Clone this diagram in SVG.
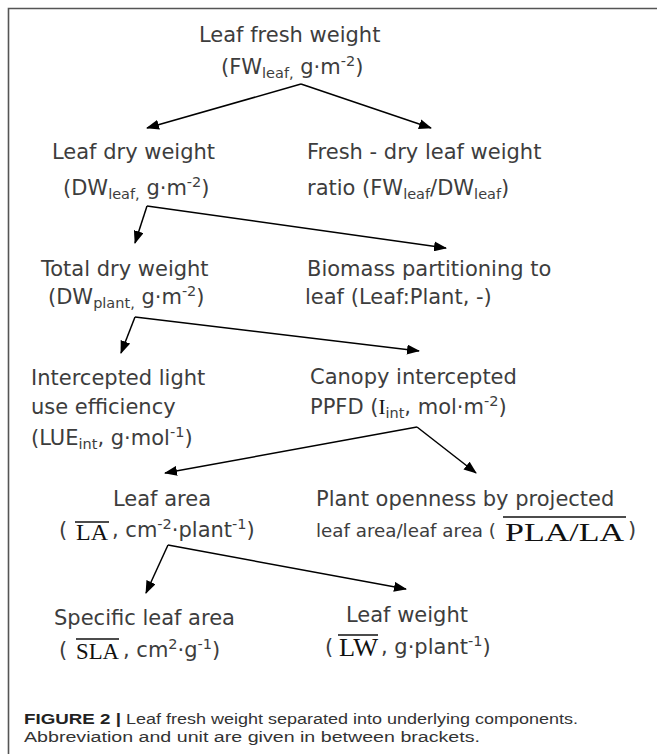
<svg xmlns="http://www.w3.org/2000/svg" width="657" height="754" viewBox="0 0 657 754">
<style>
.t{font-family:"DejaVu Sans","Verdana",sans-serif;font-size:21px;fill:#3d3d3d}
.ts{font-family:"DejaVu Sans","Verdana",sans-serif;font-size:17.5px;fill:#3d3d3d}
.m{font-family:"Liberation Serif","Times New Roman",serif;fill:#111}
.sub{font-size:14.5px;baseline-shift:-4px}
.sup{font-size:14.5px;baseline-shift:8px}
.ov{stroke:#111;stroke-width:1.5}
.cap{font-family:"Liberation Sans",Arial,sans-serif;font-size:15.5px;fill:#333}
.b{font-weight:bold;fill:#222}
.c line{stroke:#000;stroke-width:1.5;marker-end:url(#ah)}
</style>
<defs>
<marker id="ah" markerUnits="userSpaceOnUse" markerWidth="13" markerHeight="10" refX="12" refY="5" orient="auto" viewBox="0 0 13 10">
<path d="M0,0 L13,5 L0,10 z" fill="#000"/>
</marker>
</defs>
<rect width="657" height="754" fill="#fff"/>
<path d="M8.5,754 V8.5 H657" fill="none" stroke="#555" stroke-width="1.6"/>

<g id="n1">
<text class="t" x="199" y="42">Leaf fresh weight</text>
<text class="t" x="221" y="74">(FW<tspan class="sub">leaf,</tspan> g·m<tspan class="sup">-2</tspan>)</text>
</g>
<g id="n2">
<text class="t" x="52" y="159">Leaf dry weight</text>
<text class="t" x="63" y="195">(DW<tspan class="sub">leaf,</tspan> g·m<tspan class="sup">-2</tspan>)</text>
</g>
<g id="n3">
<text class="t" x="307" y="159">Fresh - dry leaf weight</text>
<text class="t" x="307" y="195">ratio (FW<tspan class="sub">leaf</tspan>/DW<tspan class="sub">leaf</tspan>)</text>
</g>
<g id="n4">
<text class="t" x="41" y="276">Total dry weight</text>
<text class="t" x="48" y="304">(DW<tspan class="sub">plant,</tspan> g·m<tspan class="sup">-2</tspan>)</text>
</g>
<g id="n5">
<text class="t" x="307" y="276">Biomass partitioning to</text>
<text class="t" x="305" y="304">leaf (Leaf:Plant, -)</text>
</g>
<g id="n6">
<text class="t" x="31" y="385">Intercepted light</text>
<text class="t" x="31" y="414">use efficiency</text>
<text class="t" x="31" y="445">(LUE<tspan class="sub">int</tspan>, g·mol<tspan class="sup">-1</tspan>)</text>
</g>
<g id="n7">
<text class="t" x="310" y="384">Canopy intercepted</text>
<text class="t" x="310" y="414">PPFD (<tspan class="m">I</tspan><tspan class="sub">int</tspan>, mol·m<tspan class="sup">-2</tspan>)</text>
</g>
<g id="n8">
<text class="t" x="113" y="506">Leaf area</text>
<text class="t" x="59" y="537">(</text>
<text class="m" x="76" y="540" font-size="23" textLength="32" lengthAdjust="spacingAndGlyphs">LA</text>
<line class="ov" x1="75" y1="522" x2="109" y2="522"/>
<text class="t" x="112" y="537">, cm<tspan class="sup">-2</tspan>·plant<tspan class="sup">-1</tspan>)</text>
</g>
<g id="n9">
<text class="t" x="316" y="506">Plant openness by projected</text>
<text class="ts" x="316" y="537" textLength="180" lengthAdjust="spacingAndGlyphs">leaf area/leaf area (</text>
<text class="m" x="505" y="541" font-size="26" textLength="119" lengthAdjust="spacingAndGlyphs">PLA/LA</text>
<line class="ov" x1="503" y1="517" x2="626" y2="517"/>
<text class="t" x="628" y="537">)</text>
</g>
<g id="n10">
<text class="t" x="54" y="625">Specific leaf area</text>
<text class="t" x="59" y="657">(</text>
<text class="m" x="76" y="659" font-size="24" textLength="43" lengthAdjust="spacingAndGlyphs">SLA</text>
<line class="ov" x1="76" y1="639" x2="119" y2="639"/>
<text class="t" x="123" y="657">, cm<tspan class="sup">2</tspan>·g<tspan class="sup">-1</tspan>)</text>
</g>
<g id="n11">
<text class="t" x="346" y="622">Leaf weight</text>
<text class="t" x="325" y="654">(</text>
<text class="m" x="339" y="656" font-size="25" textLength="39" lengthAdjust="spacingAndGlyphs">LW</text>
<line class="ov" x1="338" y1="635" x2="378" y2="635"/>
<text class="t" x="381" y="654">, g·plant<tspan class="sup">-1</tspan>)</text>
</g>

<g id="connectors" class="c">
<line x1="301" y1="84" x2="147" y2="128"/>
<line x1="301" y1="84" x2="431" y2="128"/>
<line x1="147" y1="206" x2="135" y2="243"/>
<line x1="147" y1="206" x2="446" y2="248"/>
<line x1="135" y1="317" x2="121" y2="353"/>
<line x1="135" y1="317" x2="419" y2="351"/>
<line x1="417" y1="427" x2="165" y2="473"/>
<line x1="417" y1="427" x2="476" y2="473"/>
<line x1="168" y1="545" x2="146" y2="593"/>
<line x1="168" y1="545" x2="406" y2="589"/>
</g>

<g id="caption">
<text class="cap b" x="24" y="724" textLength="97" lengthAdjust="spacingAndGlyphs">FIGURE 2 |</text>
<text class="cap" x="126" y="724" textLength="452" lengthAdjust="spacingAndGlyphs">Leaf fresh weight separated into underlying components.</text>
<text class="cap" x="24" y="742" textLength="456" lengthAdjust="spacingAndGlyphs">Abbreviation and unit are given in between brackets.</text>
</g>
</svg>
